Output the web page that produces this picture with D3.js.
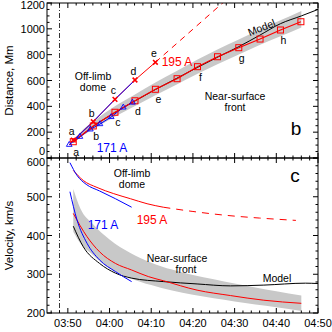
<!DOCTYPE html>
<html><head><meta charset="utf-8">
<script src="https://cdn.jsdelivr.net/npm/d3@7"></script>
<style>body{margin:0;background:#fff}svg{display:block}text{font-family:"Liberation Sans",Arial,sans-serif}</style>
</head><body><svg id="c" width="332" height="332"></svg>
<script>
// ---- data ----
const xTicks = ["03:50:00","04:00:00","04:10:00","04:20:00","04:30:00","04:40:00","04:50:00"];
const xTickLabels = ["03:50","04:00","04:10","04:20","04:30","04:40","04:50"];
const distTicks = [0,200,400,600,800,1000,1200];
const velTicks = [200,300,400,500,600];
const startLine = "03:48:00";

// near-surface front, 195 A (squares)
const nsTime = ["03:51:18","03:56:06","04:01:18","04:06:06","04:11:00","04:16:12","04:21:06","04:25:54","04:31:00","04:36:06","04:41:00","04:45:54"];
const nsDist = [126,248,354,443,532,614,707,784,854,921,991,1055];
const nsLabels = ["a","b","c","d","e","","f","","g","","h",""];
// off-limb dome, 195 A (asterisks)
const olTime = ["03:51:18","03:56:06","04:01:18","04:06:06","04:11:00"];
const olDist = [139,281,454,604,741];
const olLabels = ["a","b","c","d","e"];
const olExtTime = ["04:11:00","04:20:00","04:28:00"];
const olExtDist = [741,997,1225];
// 171 A near-surface (triangles) and off-limb track
const b171Time = ["03:50:20","03:52:54","03:55:24","03:57:42","04:00:24","04:03:18","04:05:30"];
const b171Dist = [103,165,222,263,318,392,430];
const b171OlTime = ["03:50:20","03:56:06","04:01:18","04:06:06"];
const b171OlDist = [103,283,454,604];
// model distance
const modTime = ["03:51:18","03:56:06","04:01:18","04:06:06","04:11:00","04:16:00","04:21:00","04:26:00","04:31:00","04:36:00","04:41:00","04:46:00","04:50:00"];
const modDist = [122,245,352,442,530,615,700,782,862,950,1040,1100,1150];
// distance uncertainty band
const bandTime = ["03:51:18","03:53:00","03:56:00","04:01:00","04:06:00","04:11:00","04:16:00","04:21:00","04:26:00","04:31:00","04:36:00","04:41:00","04:46:00"];
const bandLow = [118,160,220,315,400,485,568,650,728,802,875,943,1011];
const bandHigh = [134,200,280,395,490,585,672,760,842,918,995,1067,1139];

// velocities
const vOl171Time = ["03:50:30","03:52:12","03:54:24","03:57:36","04:01:24","04:05:18"];
const vOl171 = [588,555,532,515,495,473];
const vOl195Time = ["03:51:18","03:53:42","03:57:00","04:01:00","04:05:00","04:09:00","04:12:54"];
const vOl195 = [568,542,524,508,495,482,473];
const vOl195ExtTime = ["04:12:54","04:20:00","04:28:00","04:36:00","04:44:42"];
const vOl195Ext = [473,462,452,445,439];
const vNs171Time = ["03:50:30","03:52:12","03:54:36","03:57:36","04:01:24","04:05:18"];
const vNs171 = [513,440,380,337,307,281];
const vNs195Time = ["03:51:18","03:54:36","03:57:36","04:01:24","04:05:18","04:09:18","04:13:00","04:21:00","04:29:00","04:37:00","04:46:00"];
const vNs195 = [457,397,358,328,311,294,283,259,245,233,225];
const vModTime = ["03:51:18","03:53:42","03:57:36","04:01:24","04:05:18","04:13:00","04:21:00","04:29:00","04:37:00","04:47:00","04:50:00"];
const vMod = [424,371,328,303,290,281,275,270,272,277,276];
const vBandTime = ["03:51:18","03:53:00","03:56:00","04:00:00","04:05:00","04:10:00","04:15:00","04:20:00","04:25:00","04:30:00","04:35:00","04:40:00","04:46:00"];
const vBandLow = [410,380,350,315,290,272,258,247,238,230,222,215,205];
const vBandHigh = [520,470,430,390,355,330,312,298,287,276,266,256,245];

// ---- drawing ----
const p = d3.timeParse("%H:%M:%S");
const svg = d3.select("#c");
const L=47,R=318,T=3,M=158,B=313;
const x = d3.scaleTime().domain([p("03:45:00"),p("04:50:00")]).range([L,R]);
const yD = d3.scaleLinear().domain([0,1200]).range([M,T]);
const yV = d3.scaleLinear().domain([200,600]).range([B,M]);
const RED="#ff0000", BLUE="#0000ff";

const defs = svg.append("defs");
defs.append("clipPath").attr("id","ct").append("rect").attr("x",L).attr("y",T).attr("width",R-L).attr("height",M-T);
defs.append("clipPath").attr("id","cb").append("rect").attr("x",L).attr("y",M).attr("width",R-L).attr("height",B-M);

const gTop = svg.append("g").attr("clip-path","url(#ct)");
const gBot = svg.append("g").attr("clip-path","url(#cb)");

const zip = (t,v)=>t.map((d,i)=>[p(d),v[i]]);
const lineD = d3.line().x(d=>x(d[0])).y(d=>yD(d[1]));
const lineDs = d3.line().x(d=>x(d[0])).y(d=>yD(d[1])).curve(d3.curveMonotoneX);
const lineV = d3.line().x(d=>x(d[0])).y(d=>yV(d[1])).curve(d3.curveMonotoneX);

// vertical dash-dot line
svg.append("line").attr("x1",x(p(startLine))).attr("x2",x(p(startLine))).attr("y1",T).attr("y2",B)
  .attr("stroke","#000").attr("stroke-width",0.8).attr("stroke-dasharray","5,2,1,2");

// top panel band
gTop.append("path").datum(bandTime.map((d,i)=>[p(d),bandLow[i],bandHigh[i]]))
  .attr("d",d3.area().x(d=>x(d[0])).y0(d=>yD(d[1])).y1(d=>yD(d[2])).curve(d3.curveMonotoneX))
  .attr("fill","#c8c8c8");
// model
gTop.append("path").datum(zip(modTime,modDist)).attr("d",lineDs).attr("fill","none").attr("stroke","#000").attr("stroke-width",1);
// 171 near-surface
gTop.append("path").datum(zip(b171Time,b171Dist)).attr("d",lineD).attr("fill","none").attr("stroke",BLUE).attr("stroke-width",1);
// near-surface 195
gTop.append("path").datum(zip(nsTime,nsDist)).attr("d",lineD).attr("fill","none").attr("stroke",RED).attr("stroke-width",1.2);
// off-limb 195
gTop.append("path").datum(zip(olTime,olDist)).attr("d",lineD).attr("fill","none").attr("stroke",RED).attr("stroke-width",1);
gTop.append("path").datum(zip(olExtTime,olExtDist)).attr("d",lineD).attr("fill","none").attr("stroke",RED).attr("stroke-width",1).attr("stroke-dasharray","6,5");
// off-limb 171
gTop.append("path").datum(zip(b171OlTime,b171OlDist)).attr("d",lineD).attr("fill","none").attr("stroke",BLUE).attr("stroke-width",1);

// markers
gTop.selectAll(".sq").data(zip(nsTime,nsDist)).join("rect").attr("x",d=>x(d[0])-3).attr("y",d=>yD(d[1])-3)
  .attr("width",6).attr("height",6).attr("fill","none").attr("stroke",RED).attr("stroke-width",1);
gTop.selectAll(".tr").data(zip(b171Time,b171Dist)).join("path").attr("transform",d=>`translate(${x(d[0])},${yD(d[1])})`)
  .attr("d",d3.symbol(d3.symbolTriangle,14)).attr("fill","none").attr("stroke",BLUE).attr("stroke-width",0.9);
gTop.selectAll(".as").data(zip(olTime,olDist)).join("path").attr("transform",d=>`translate(${x(d[0])},${yD(d[1])})`)
  .attr("d",d3.symbol(d3.symbolTimes,16)).attr("fill","none").attr("stroke",RED).attr("stroke-width",1.6);

// letter labels
const lab = svg.append("g").attr("font-size",10.5).attr("text-anchor","middle").attr("dominant-baseline","central");
lab.selectAll(".nl").data(zip(nsTime,nsDist).map((d,i)=>[...d,nsLabels[i]]).filter(d=>d[2])).join("text")
  .attr("x",d=>x(d[0])+3).attr("y",d=>yD(d[1])+10).text(d=>d[2]);
lab.selectAll(".ol").data(zip(olTime,olDist).map((d,i)=>[...d,olLabels[i]])).join("text")
  .attr("x",d=>x(d[0])-1.5).attr("y",d=>yD(d[1])-9).text(d=>d[2]);

// bottom panel
gBot.append("path").datum(vBandTime.map((d,i)=>[p(d),vBandLow[i],vBandHigh[i]]))
  .attr("d",d3.area().x(d=>x(d[0])).y0(d=>yV(d[1])).y1(d=>yV(d[2])).curve(d3.curveMonotoneX)).attr("fill","#c8c8c8");
gBot.append("path").datum(zip(vModTime,vMod)).attr("d",lineV).attr("fill","none").attr("stroke","#000").attr("stroke-width",1);
gBot.append("path").datum(zip(vNs195Time,vNs195)).attr("d",lineV).attr("fill","none").attr("stroke",RED).attr("stroke-width",1);
gBot.append("path").datum(zip(vNs171Time,vNs171)).attr("d",lineV).attr("fill","none").attr("stroke",BLUE).attr("stroke-width",1);
gBot.append("path").datum(zip(vOl195Time,vOl195)).attr("d",lineV).attr("fill","none").attr("stroke",RED).attr("stroke-width",1);
gBot.append("path").datum(zip(vOl195ExtTime,vOl195Ext)).attr("d",lineV).attr("fill","none").attr("stroke",RED).attr("stroke-width",1).attr("stroke-dasharray","7,6");
gBot.append("path").datum(zip(vOl171Time,vOl171)).attr("d",lineV).attr("fill","none").attr("stroke",BLUE).attr("stroke-width",1);

// axes frames
function frame(y0,y1){ svg.append("rect").attr("x",L).attr("y",y0).attr("width",R-L).attr("height",y1-y0).attr("fill","none").attr("stroke","#000").attr("stroke-width",1);}
frame(T,M); frame(M,B);

function xAxes(yPos, dir, labels){
  const major = xTicks.map(p);
  const minor = d3.timeMinute.every(2).range(p("03:45:00"),p("04:50:01")).filter(t=>!major.some(m=>+m===+t));
  const g = svg.append("g");
  g.selectAll(".M").data(major).join("line").attr("x1",d=>x(d)).attr("x2",d=>x(d)).attr("y1",yPos).attr("y2",yPos+dir*5).attr("stroke","#000");
  g.selectAll(".m").data(minor).join("line").attr("x1",d=>x(d)).attr("x2",d=>x(d)).attr("y1",yPos).attr("y2",yPos+dir*2.5).attr("stroke","#000");
  if(labels){
    g.selectAll("text").data(major).join("text").attr("x",d=>x(d)).attr("y",yPos+14).attr("text-anchor","middle")
     .attr("font-size",11).text((d,i)=>xTickLabels[i]);
  }
}
xAxes(T,1,false); xAxes(M,-1,false); xAxes(M,1,false); xAxes(B,-1,true);

function yAxes(scale, majors, minorStep, labelFn){
  const [d0,d1]=scale.domain();
  const minor = d3.range(d0,d1+0.001,minorStep).filter(v=>!majors.includes(v));
  const g=svg.append("g");
  [[L,1],[R,-1]].forEach(([xp,dir])=>{
    g.append("g").selectAll("line").data(majors).join("line").attr("x1",xp).attr("x2",xp+dir*5).attr("y1",d=>scale(d)).attr("y2",d=>scale(d)).attr("stroke","#000");
    g.append("g").selectAll("line").data(minor).join("line").attr("x1",xp).attr("x2",xp+dir*2.5).attr("y1",d=>scale(d)).attr("y2",d=>scale(d)).attr("stroke","#000");
  });
  g.append("g").selectAll("text").data(majors).join("text").attr("x",L-2).attr("y",d=>scale(d)+labelFn(d))
    .attr("text-anchor","end").attr("dominant-baseline","central").attr("font-size",11).text(d=>d);
}
yAxes(yD, distTicks, 50, d=>d===0?-7:(d===1200?2:0));
yAxes(yV, velTicks, 20, d=>d===600?4:0);

// axis titles
svg.append("text").attr("transform",`translate(13,${(T+M)/2}) rotate(-90)`).attr("text-anchor","middle").attr("font-size",11.5).text("Distance, Mm");
svg.append("text").attr("transform",`translate(13,${(M+B)/2}) rotate(-90)`).attr("text-anchor","middle").attr("font-size",11.5).text("Velocity, km/s");

// annotations
const ann = svg.append("g").attr("font-size",10.5).attr("text-anchor","middle");
ann.append("text").attr("x",93).attr("y",80).text("Off-limb");
ann.append("text").attr("x",93).attr("y",91).text("dome");
ann.append("text").attr("x",235).attr("y",100).text("Near-surface");
ann.append("text").attr("x",235).attr("y",111).text("front");
ann.append("text").attr("x",177).attr("y",66).attr("fill",RED).attr("font-size",12).text("195 A");
ann.append("text").attr("x",112).attr("y",152).attr("fill",BLUE).attr("font-size",12).text("171 A");
ann.append("text").attr("x",263).attr("y",31).attr("transform","rotate(-22,263,31)").text("Model");
ann.append("text").attr("x",132).attr("y",177).text("Off-limb");
ann.append("text").attr("x",132).attr("y",188).text("dome");
ann.append("text").attr("x",103).attr("y",229).attr("fill",BLUE).attr("font-size",12).text("171 A");
ann.append("text").attr("x",152).attr("y",224).attr("fill",RED).attr("font-size",12).text("195 A");
ann.append("text").attr("x",177).attr("y",262).text("Near-surface");
ann.append("text").attr("x",186).attr("y",273).text("front");
ann.append("text").attr("x",277).attr("y",282).text("Model");
svg.append("text").attr("x",296).attr("y",135).attr("text-anchor","middle").attr("font-family","Liberation Serif,Times New Roman,serif").attr("font-size",19).text("b");
svg.append("text").attr("x",295).attr("y",182).attr("text-anchor","middle").attr("font-family","Liberation Serif,Times New Roman,serif").attr("font-size",19).text("c");
</script></body></html>
